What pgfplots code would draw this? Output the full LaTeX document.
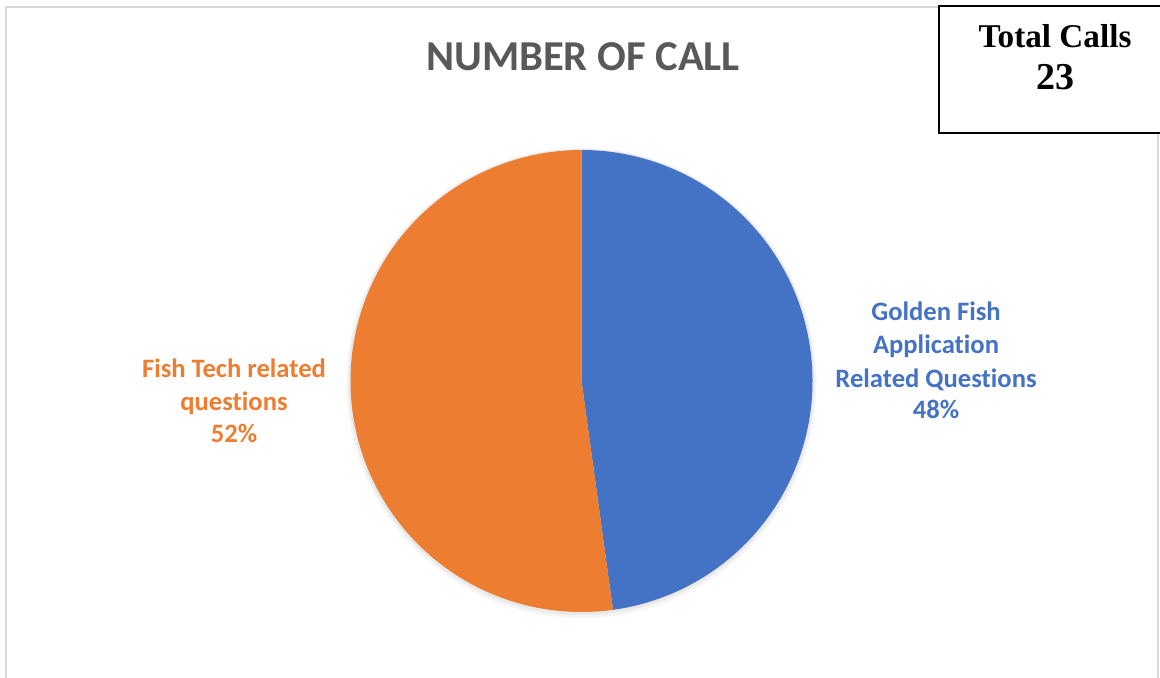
\documentclass[border=0pt]{standalone}
\usepackage{pgfplots}
\usepackage{pgfplotstable}
\pgfplotsset{compat=1.18}
\usepackage{fontspec}
\setmainfont[Ligatures=NoCommon]{Carlito}
\newfontfamily\timesfont{Liberation Serif}
\definecolor{cblue}{HTML}{4472C4}
\definecolor{corange}{HTML}{ED7D31}
\definecolor{ctitle}{HTML}{595959}
\definecolor{cframe}{HTML}{D9D9D9}

\pgfplotstableread{
category calls
GoldenFish 11
FishTech 12
}\calls
\pgfplotstablegetelem{0}{calls}\of\calls \let\va\pgfplotsretval
\pgfplotstablegetelem{1}{calls}\of\calls \let\vb\pgfplotsretval
\pgfmathsetmacro\total{\va+\vb}
\pgfmathsetmacro\angA{360*\va/\total}
\pgfmathsetmacro\startA{90-\angA}

\begin{document}
\begin{tikzpicture}
\begin{axis}[name=ax,width=580pt,height=338.5pt,scale only axis,
  xmin=0,xmax=1160,ymin=0,ymax=677,axis lines=none,clip=false]
% chart frame
\addplot[draw=cframe, line width=1pt] coordinates {(6,-2) (6,670) (939,670)};
\addplot[draw=cframe, line width=1pt] coordinates {(1158,544) (1158,-2)};
% soft shadow
\addplot[fill=black, fill opacity=0.04, draw=none, domain=0:360, samples=200]
  ({581.5+235*cos(x)},{294+235*sin(x)}) -- cycle;
\addplot[fill=black, fill opacity=0.05, draw=none, domain=0:360, samples=200]
  ({581.5+233*cos(x)},{295+233*sin(x)}) -- cycle;
% pie
\addplot[fill=cblue, draw=none, domain=\startA:90, samples=200]
  ({581.5+231*cos(x)},{296+231*sin(x)}) -- (axis cs:581.5,296) -- cycle;
\addplot[fill=corange, draw=none, domain=-270:\startA, samples=200]
  ({581.5+231*cos(x)},{296+231*sin(x)}) -- (axis cs:581.5,296) -- cycle;
% title
\node[text=ctitle, anchor=base, font=\fontsize{21.3}{26}\selectfont\bfseries] at (axis cs:583,607) {NUMBER OF CALL};
% data labels
\begin{scope}[every node/.style={anchor=base, font=\fontsize{13.3}{16}\selectfont\bfseries}]
\node[text=cblue] at (axis cs:936,357) {Golden Fish};
\node[text=cblue] at (axis cs:936,324) {Application};
\node[text=cblue] at (axis cs:936,290) {Related Questions};
\node[text=cblue] at (axis cs:936,259) {48\%};
\node[text=corange] at (axis cs:234,300) {Fish Tech related};
\node[text=corange] at (axis cs:234,267) {questions};
\node[text=corange] at (axis cs:234,235) {52\%};
\end{scope}
% total box
\addplot[draw=black, line width=1pt] coordinates {(1162,671) (939,671) (939,544) (1162,544)};
\node[anchor=base, font=\timesfont\fontsize{16.6}{20}\selectfont\bfseries] at (axis cs:1055,630) {Total Calls};
\node[anchor=base, font=\timesfont\fontsize{19}{22}\selectfont\bfseries] at (axis cs:1055.5,588) {23};
\end{axis}
\pgfresetboundingbox
\path[use as bounding box] (ax.south west) rectangle (ax.north east);
\end{tikzpicture}
\end{document}
